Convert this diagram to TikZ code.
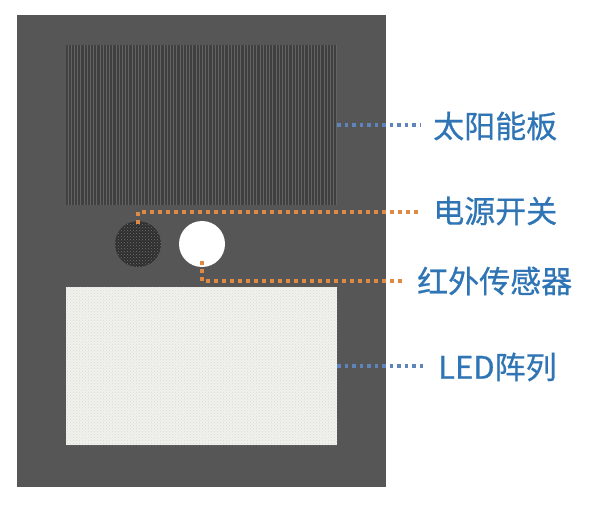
\documentclass[tikz,border=0pt]{standalone}
\usepackage{fontspec}
\newfontfamily\cjk[FakeBold=0.6]{Noto Sans CJK SC}
\usetikzlibrary{patterns}
\definecolor{casegray}{HTML}{565656}
\definecolor{panelbase}{HTML}{404040}
\definecolor{panelline}{HTML}{636363}
\definecolor{ledfill}{HTML}{F1F1ED}
\definecolor{leddot}{HTML}{DADAD4}
\definecolor{lblblue}{HTML}{2F75B5}
\definecolor{dotblue}{HTML}{5F84BC}
\definecolor{dotorange}{HTML}{DE8A44}
\tikzset{
  lbl/.style={font=\cjk\fontsize{31}{31}\selectfont, text=lblblue, inner sep=0pt, anchor=west},
  blueconn/.style={draw=dotblue, line width=3.5pt, dash pattern=on 3.5pt off 4pt, shorten >=13pt},
  orangeconn/.style={draw=dotorange, line width=3.5pt, dash pattern=on 3.5pt off 4.5pt, shorten >=13pt},
}
\begin{document}
\begin{tikzpicture}[x=1pt,y=-1pt]
\useasboundingbox (0,0) rectangle (600,505);
\fill[white] (0,0) rectangle (600,505);
% case
\node[draw=none, fill=casegray, minimum width=369pt, minimum height=472pt, inner sep=0pt] (case) at (201.5,251) {};
% solar panel
\node[fill=panelbase, minimum width=271pt, minimum height=160pt, inner sep=0pt] (panel) at (201.5,125) {};
\foreach \i in {0,...,84} {
  \fill[panelline] ({67.5+3.2*\i},45) rectangle ({68.5+3.2*\i},205);
}
% LED array
\node[fill=ledfill, minimum width=271pt, minimum height=158pt, inner sep=0pt] (led) at (201.5,366) {};
\fill[pattern=crosshatch dots, pattern color=leddot] (66,287) rectangle (337,445);
% power switch
\node[circle, fill=black!82, minimum size=46pt, inner sep=0pt] (sw) at (138,244) {};
\fill[pattern=crosshatch dots, pattern color=black!55] (sw) circle (23pt);
% IR sensor
\node[circle, fill=white, minimum size=46pt, inner sep=0pt] (ir) at (202,244) {};
% labels
\node[lbl] (tSolar) at (433,126) {太阳能板};
\node[lbl] (tSwitch) at (433,211) {电源开关};
\node[lbl] (tIR) at (417,281) {红外传感器};
\node[lbl] (tLED) at (438,367) {LED阵列};
% connectors
\draw[blueconn] (panel.east) -- (tSolar.west |- panel.east);
\draw[blueconn] (led.east) -- (tLED.west |- led.east);
\draw[orangeconn] ([yshift=-3pt]sw.north) |- ([yshift=-1pt]tSwitch.west);
\draw[orangeconn, shorten >=14pt] ([yshift=6pt]ir.south) |- (tIR.west);
\end{tikzpicture}
\end{document}
